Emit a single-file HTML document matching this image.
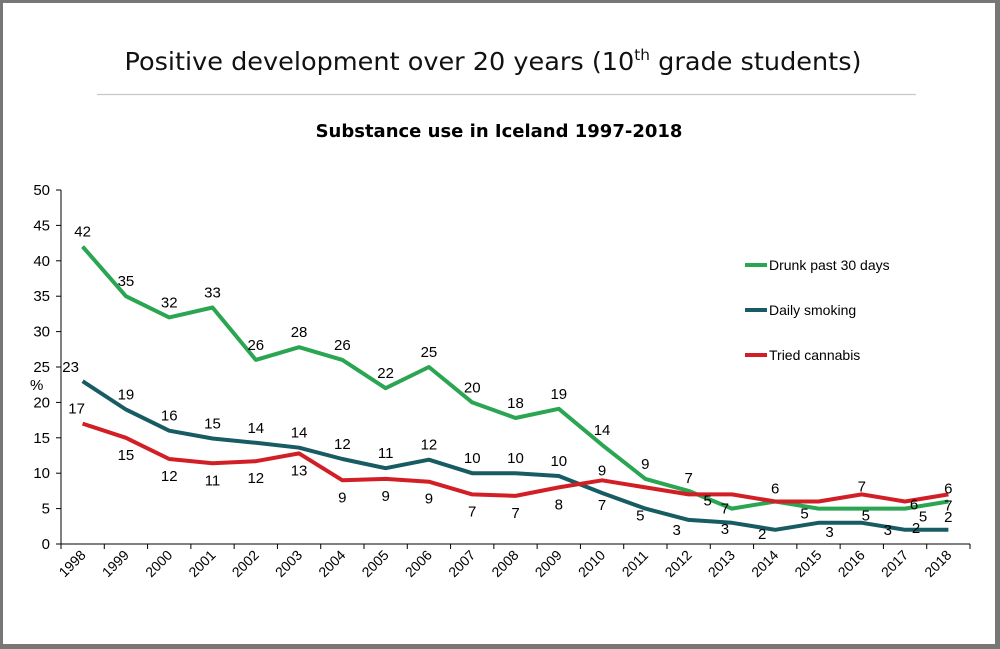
<!DOCTYPE html>
<html><head><meta charset="utf-8"><style>
body{margin:0;background:#fff}
#frame{position:relative;width:1000px;height:649px;box-sizing:border-box;border:solid #777;border-width:3px 5px 5px 3px;background:#fff;overflow:hidden}
svg{position:absolute;left:-3px;top:-3px}
</style></head><body>
<div id="frame">
<svg id="c" width="1000" height="649">
<text x="493" y="70" text-anchor="middle" font-family="DejaVu Sans, sans-serif" font-size="25" fill="#111" textLength="737" lengthAdjust="spacingAndGlyphs">Positive development over 20 years (10<tspan font-size="15" dy="-10">th</tspan><tspan dy="10"> grade students)</tspan></text>
<line x1="97" y1="94.5" x2="916" y2="94.5" stroke="#c8c8c8" stroke-width="1.2"/>
<text x="499" y="137" text-anchor="middle" font-family="DejaVu Sans, sans-serif" font-weight="bold" font-size="18" fill="#000">Substance use in Iceland 1997-2018</text>
<text x="30" y="390" font-family="Liberation Sans, sans-serif" font-size="15" fill="#000">%</text>
</svg>
</div>
<script>
const years=["1998","1999","2000","2001","2002","2003","2004","2005","2006","2007","2008","2009","2010","2011","2012","2013","2014","2015","2016","2017","2018"];
const drunk=[42,35,32,33.4,26,27.8,26,22,25,20,17.8,19.1,14,9.2,7.5,5,6,5,5,5,6];
const smoking=[23,19,16,14.9,14.3,13.6,12,10.7,11.9,10,10,9.6,7.2,5,3.4,3,2,3,3,2,2];
const cannabis=[17,15,12,11.4,11.7,12.8,9,9.2,8.8,7,6.8,8,9,8,7,7,6,6,7,6,7];
const drunkLabels=["42","35","32","33","26","28","26","22","25","20","18","19","14","9","7","7","6","5","5","5","7"];
const smokingLabels=["23","19","16","15","14","14","12","11","12","10","10","10","7","5","3","3","2","3","3","2","2"];
const cannabisLabels=["17","15","12","11","12","13","9","9","9","7","7","8","9","","5","","","","7","6","6"];
const yTicks=[0,5,10,15,20,25,30,35,40,45,50];
const X0=61,X1=970,Y0=544,Y1=190;
const bw=(X1-X0)/years.length;
function xs(i){return X0+bw*(i+0.5);}
function ys(v){return Y0-(v/50)*(Y0-Y1);}
const NS="http://www.w3.org/2000/svg";
const svg=document.getElementById('c');
function mk(t,a,p){const e=document.createElementNS(NS,t);for(const k in a)e.setAttribute(k,a[k]);(p||svg).appendChild(e);return e;}
const ax=mk('g',{});


const ya=mk('line',{x1:X0,y1:Y1,x2:X0,y2:Y0,stroke:'#000','stroke-width':1},ax);


const xa=mk('line',{x1:X0-4,y1:Y0,x2:X1,y2:Y0,stroke:'#000','stroke-width':1},ax);


yTicks.forEach(v=>{
  mk('line',{x1:X0-5,y1:ys(v),x2:X0,y2:ys(v),stroke:'#000'},ax);
  const t=mk('text',{x:X0-11,y:ys(v)+5,'text-anchor':'end','font-family':'Liberation Sans, sans-serif','font-size':15},ax);
  t.textContent=v;
  
  
});
for(let i=0;i<=years.length;i++){mk('line',{x1:X0+bw*i,y1:Y0,x2:X0+bw*i,y2:Y0+5,stroke:'#000'},ax);}
years.forEach((y,i)=>{
  const x=xs(i)-7,yy=Y0+23;
  const t=mk('text',{x:x,y:yy,'text-anchor':'middle',transform:`rotate(-45 ${x} ${yy})`,'font-family':'Liberation Sans, sans-serif','font-size':14},ax);
  t.textContent=y;
  
  
});
const series=[
 {name:'drunk',vals:drunk,labels:drunkLabels,color:'#2aa552',
  dy:[-10,-10,-10,-10,-10,-10,-10,-10,-10,-10,-10,-10,-10,-10,-8,5,-8,10,12,13,9],
  dx:[0,0,0,0,0,0,0,0,0,0,0,0,0,0,0,-7,0,-14,4,18,0]},
 {name:'smoking',vals:smoking,labels:smokingLabels,color:'#175c62',
  dy:[-9,-10,-10,-10,-10,-10,-10,-10,-10,-10,-10,-10,17,12,15,11,9,14,12,3,-8],
  dx:[-12,0,0,0,0,0,0,0,0,0,0,0,0,-5,-12,-7,-13,11,26,11,0]},
 {name:'cannabis',vals:cannabis,labels:cannabisLabels,color:'#d21f26',
  dy:[-10,22,22,22,22,22,22,22,22,22,22,22,-5,0,11,0,0,0,-3,8,-1],
  dx:[-6,0,0,0,0,0,0,0,0,0,0,0,0,0,19,0,0,0,0,9,0]}
];
series.forEach(s=>{
  const d=s.vals.map((v,i)=>(i?'L':'M')+xs(i).toFixed(1)+','+ys(v).toFixed(1)).join(' ');
  const p=mk('path',{d:d,fill:'none',stroke:s.color,'stroke-width':4,'stroke-linejoin':'round'});
  
  
});
series.forEach(s=>{
  s.vals.forEach((v,i)=>{
    if(!s.labels[i])return;
    const t=mk('text',{x:xs(i)+s.dx[i],y:ys(v)+s.dy[i],'text-anchor':'middle','font-family':'Liberation Sans, sans-serif','font-size':15});
    t.textContent=s.labels[i];
    
    
  });
});
const legendNames=['Drunk past 30 days','Daily smoking','Tried cannabis'];
series.forEach((s,i)=>{
  const g=mk('g',{});
  
  
  const ly=265+45*i;
  mk('line',{x1:745,y1:ly,x2:767,y2:ly,stroke:s.color,'stroke-width':4},g);
  const t=mk('text',{x:769,y:ly+5,'font-family':'Liberation Sans, sans-serif','font-size':14},g);
  t.textContent=legendNames[i];
});
</script>
</body></html>
